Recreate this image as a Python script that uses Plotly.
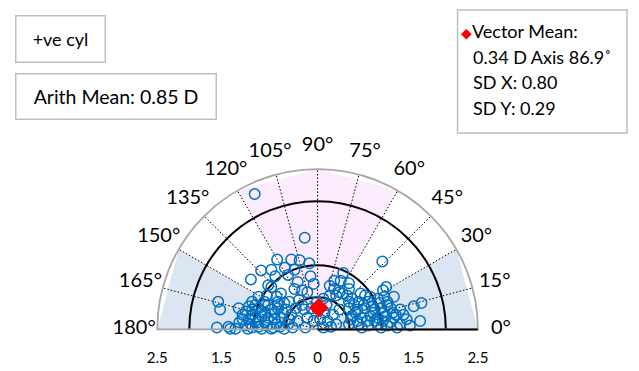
import numpy as np
import plotly.graph_objects as go

# Cylinder vectors, horizontal / vertical components in dioptres
cyl_x = [-0.98, -0.20, 1.01, -0.63, -0.41, -0.28, -0.13, -0.51, -0.88, -1.04,
         -0.66, -0.46, -0.31, -0.06, 0.40, 0.36, 0.49, -0.77, -0.72, -0.57,
         -0.36, -0.24, -0.16, 0.26, 0.34, 0.39, 0.29, 1.07, 1.02, 0.67,
         0.74, 0.19, 0.09, -0.29, -0.44, -0.62, -0.79, -0.83, -0.92, -1.02,
         0.54, 0.64, 0.79, 0.94, 1.09, 0.49, 0.62, 0.74, 0.89, 0.99,
         1.14, 1.29, 1.50, 1.62, 0.54, 0.69, 0.82, 0.94, 1.07, 1.19,
         1.39, 1.60, 0.49, 0.64, 0.79, 0.94, 1.09, 1.24, 1.29, 0.99,
         0.69, 0.87, 1.02, 0.59, 1.17, -1.55, -1.52, -1.57, -1.39, -1.36,
         -1.28, -1.23, -1.12, -1.02, -0.92, -0.82, -0.72, -0.62, -1.07, -0.97,
         -0.87, -0.77, -0.67, -0.57, -1.12, -1.02, -0.92, -0.79, -0.69, -0.59,
         -0.46, -0.41, -0.49, -0.34, -1.02, -0.82, -1.17, -0.62, -0.52, -0.16,
         -0.06, 0.04, 0.16, 0.24, 0.11, -0.21, -0.31, -0.19, 0.09, 0.21,
         0.29, -0.09, 0.14, 0.34, -0.24, -0.01, 0.57, 0.72, 0.84, 0.97,
         1.09, 0.77, 0.89, 1.02, 1.14, 0.52, 0.62, 1.22, 1.34, 1.44,
         0.49, 1.04, 1.19, 0.82, -1.17, -1.07, -0.97, -0.87, -0.77, -0.67,
         -0.54, -1.09, -0.87, -0.72, -1.22, -0.94, -0.82, -0.64, -0.52, -0.44,
         -0.39, -1.04, 0.19, 0.49, -0.72, -0.36, -0.11, 0.26, 0.46, -0.64]
cyl_y = [2.11, 1.43, 1.06, 1.09, 1.09, 1.08, 1.03, 0.96, 0.92, 0.78,
         0.83, 0.85, 0.74, 0.71, 0.88, 0.76, 0.72, 0.69, 0.66, 0.56,
         0.63, 0.61, 0.58, 0.63, 0.58, 0.56, 0.53, 0.66, 0.61, 0.56,
         0.53, 0.53, 0.48, 0.46, 0.43, 0.38, 0.53, 0.43, 0.51, 0.43,
         0.48, 0.43, 0.43, 0.48, 0.43, 0.33, 0.31, 0.33, 0.31, 0.33,
         0.33, 0.31, 0.36, 0.41, 0.21, 0.18, 0.21, 0.18, 0.21, 0.18,
         0.16, 0.13, 0.08, 0.08, 0.06, 0.08, 0.06, 0.03, 0.08, 0.03,
         0.03, 0.26, 0.26, 0.26, 0.26, 0.43, 0.31, 0.03, 0.04, 0.01,
         0.01, 0.33, 0.28, 0.31, 0.33, 0.38, 0.31, 0.33, 0.16, 0.18,
         0.21, 0.18, 0.16, 0.18, 0.06, 0.03, 0.04, 0.06, 0.03, 0.04,
         0.08, 0.23, 0.31, 0.33, 0.23, 0.26, 0.16, 0.43, 0.41, 0.18,
         0.13, 0.16, 0.13, 0.23, 0.26, 0.31, 0.13, 0.03, 0.03, 0.04,
         0.08, 0.33, 0.38, 0.31, 0.38, 0.43, 0.38, 0.38, 0.36, 0.41,
         0.38, 0.13, 0.13, 0.13, 0.11, 0.16, 0.13, 0.23, 0.23, 0.06,
         0.43, 0.51, 0.51, 0.51, 0.23, 0.36, 0.38, 0.28, 0.38, 0.26,
         0.26, 0.01, 0.01, 0.01, 0.11, 0.11, 0.11, 0.08, 0.01, 0.16,
         0.03, 0.08, 0.68, 0.63, 0.93, 0.93, 0.83, 0.76, 0.53, 0.51]

# Summary statistics
mean_cyl = 0.34
mean_axis = 86.9
sd_x = 0.80
sd_y = 0.29
arith_mean = 0.85

# Shaded axis zones (degrees) and grid rings (dioptres)
wtr_zones = [(0, 30), (150, 180)]
atr_zone = (60, 90, 120)
rings_black = [0.5, 1.0, 2.0]
rings_gray = [1.5]
r_max = 2.5
r_label = 2.86
r_outer = 2.9
angle_ticks = list(range(0, 181, 15))
angle_text = [f"{a}°" for a in angle_ticks]
x_tick_vals = [-2.5, -1.5, -0.5, 0, 0.5, 1.5, 2.5]
x_tick_text = ["2.5", "1.5", "0.5", "0", "0.5", "1.5", "2.5"]

cyl = np.hypot(cyl_x, cyl_y)
axis_deg = np.degrees(np.arctan2(cyl_y, cyl_x))

W, H = 639, 371
FONT = "Lato, 'Open Sans', sans-serif"
BLUE_ZONE = "#dce6f2"
PINK_ZONE = "#fdecfd"
POINT = "#0070c0"
GRAYLINE = "#a6a6a6"
BOXLINE = "#bfbfbf"

cx, cy, rad = 317.5, 332.0, 165.5
dom_x = [(cx - rad) / W, (cx + rad) / W]
dom_y = [(H - cy) / H, (H - cy + rad) / H]
# wider frame used only for the angle labels (same centre and scale)
rad_l = rad * r_outer / r_max
lab_x = [(cx - rad_l) / W, (cx + rad_l) / W]
lab_y = [(H - cy) / H, (H - cy + rad_l) / H]

fig = go.Figure()

# zone fills on the bottom polar subplot
for a0, a1 in wtr_zones:
    fig.add_trace(go.Scatterpolar(
        r=[0, r_max, r_max, 0], theta=[a0, a0, a1, a1], mode="lines",
        fill="toself", fillcolor=BLUE_ZONE, line=dict(width=0),
        hoverinfo="skip", subplot="polar"))
fig.add_trace(go.Scatterpolar(
    r=[0] + [r_max] * len(atr_zone) + [0],
    theta=[atr_zone[0]] + list(atr_zone) + [atr_zone[-1]], mode="lines",
    fill="toself", fillcolor=PINK_ZONE, line=dict(width=0),
    hoverinfo="skip", subplot="polar"))

# data points and vector mean on the top polar subplot
fig.add_trace(go.Scatterpolar(
    r=cyl, theta=axis_deg, mode="markers",
    marker=dict(symbol="circle-open", size=10.5, color=POINT,
                line=dict(width=1.5, color=POINT)),
    subplot="polar3"))
fig.add_trace(go.Scatterpolar(
    r=[mean_cyl], theta=[mean_axis], mode="markers",
    marker=dict(symbol="diamond", size=15, color="#ff0000"),
    subplot="polar3"))

# angle labels centred just outside the rim
fig.add_trace(go.Scatterpolar(
    r=[r_label] * len(angle_ticks), theta=angle_ticks, mode="text",
    text=angle_text, textposition="middle center", cliponaxis=False,
    textfont=dict(size=20, family=FONT, color="black"),
    hoverinfo="skip", subplot="polar4"))

# invisible trace to hold the cartesian scale under the plot
fig.add_trace(go.Scatter(x=[-r_max, r_max], y=[0, 0], mode="markers",
                         marker=dict(opacity=0), hoverinfo="skip"))

hidden_angular = dict(showgrid=False, showline=False, showticklabels=False,
                      ticks="", direction="counterclockwise", rotation=0)
hidden_radial = dict(showgrid=False, showline=False, showticklabels=False,
                     ticks="")

fig.update_layout(
    width=W, height=H, margin=dict(l=0, r=0, t=0, b=0),
    paper_bgcolor="white", plot_bgcolor="rgba(0,0,0,0)",
    showlegend=False,
    font=dict(family=FONT, color="black"),
    polar=dict(
        domain=dict(x=dom_x, y=dom_y), sector=[0, 180], bgcolor="white",
        radialaxis=dict(range=[0, r_max], **hidden_radial),
        angularaxis=hidden_angular,
    ),
    polar2=dict(
        domain=dict(x=dom_x, y=dom_y), sector=[0, 180],
        bgcolor="rgba(0,0,0,0)",
        radialaxis=dict(range=[0, r_max], tickvals=rings_gray,
                        showgrid=True, gridcolor=GRAYLINE, gridwidth=1.5,
                        showline=True, linecolor="black", linewidth=2,
                        angle=180, showticklabels=False, ticks=""),
        angularaxis=hidden_angular,
    ),
    polar3=dict(
        domain=dict(x=dom_x, y=dom_y), sector=[0, 180],
        bgcolor="rgba(0,0,0,0)",
        radialaxis=dict(range=[0, r_max], tickvals=rings_black,
                        showgrid=True, gridcolor="black", gridwidth=1.5,
                        showline=True, linecolor="black", linewidth=2,
                        angle=0, showticklabels=False, ticks=""),
        angularaxis=dict(
            direction="counterclockwise", rotation=0,
            tickvals=angle_ticks, showticklabels=False, ticks="",
            showgrid=True, gridcolor="black", gridwidth=1,
            griddash="1.5px,2px",
            showline=True, linecolor=GRAYLINE, linewidth=1.8),
    ),
    polar4=dict(
        domain=dict(x=lab_x, y=lab_y), sector=[0, 180],
        bgcolor="rgba(0,0,0,0)",
        radialaxis=dict(range=[0, r_outer], **hidden_radial),
        angularaxis=hidden_angular,
    ),
    xaxis=dict(domain=dom_x, range=[-r_max, r_max], tickvals=x_tick_vals,
               ticktext=x_tick_text, showgrid=False, zeroline=False,
               showline=False, ticks="outside", ticklen=12,
               tickcolor="rgba(0,0,0,0)",
               tickfont=dict(size=15, family=FONT, color="black"),
               fixedrange=True),
    yaxis=dict(domain=dom_y, range=[0, r_max], visible=False,
               fixedrange=True),
)

# text boxes
def px_x(v):
    return v / W

def px_y(v):
    return 1 - v / H

fig.add_annotation(xref="paper", yref="paper", x=px_x(5), y=px_y(15),
                   xanchor="left", yanchor="top", text="+ve cyl",
                   width=88, height=45, borderpad=0, align="center",
                   bordercolor=BOXLINE, borderwidth=1.5, bgcolor="white",
                   showarrow=False, font=dict(size=18, family=FONT))
fig.add_annotation(xref="paper", yref="paper", x=px_x(5), y=px_y(73),
                   xanchor="left", yanchor="top",
                   text=f"Arith Mean: {arith_mean:.2f} D",
                   width=199, height=44, borderpad=0, align="center",
                   bordercolor=BOXLINE, borderwidth=1.5, bgcolor="white",
                   showarrow=False, font=dict(size=19.5, family=FONT))

fig.add_shape(type="rect", xref="paper", yref="paper",
              x0=px_x(462), x1=px_x(637), y0=px_y(133), y1=px_y(10),
              line=dict(color=BOXLINE, width=1.5), fillcolor="white",
              layer="above")
stat_lines = [
    "<span style='color:#ff0000;font-size:14px'>◆</span>Vector Mean:",
    f"{mean_cyl:.2f} D Axis {mean_axis:.1f}˚",
    f"SD X: {sd_x:.2f}",
    f"SD Y: {sd_y:.2f}",
]
line_y = [31, 57, 82, 108]
line_x = [464, 476, 476, 476]
for txt, lx, ly in zip(stat_lines, line_x, line_y):
    fig.add_annotation(xref="paper", yref="paper", x=px_x(lx), y=px_y(ly),
                       xanchor="left", yanchor="middle", text=txt,
                       showarrow=False, font=dict(size=18, family=FONT))

fig.write_html("out.html")
